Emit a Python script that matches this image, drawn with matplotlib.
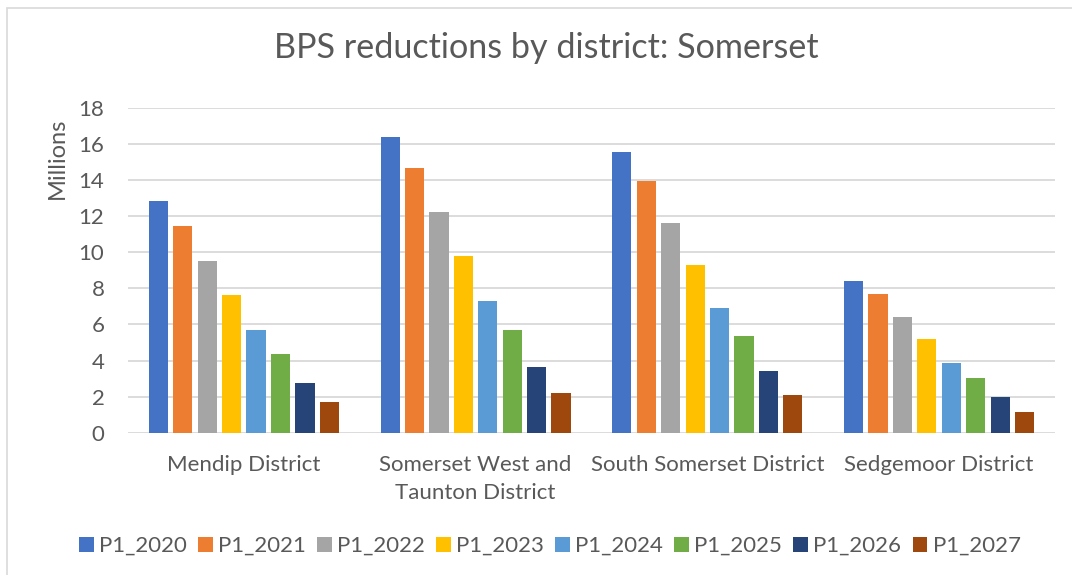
import matplotlib.pyplot as plt
import numpy as np
from matplotlib.patches import Rectangle

# values in millions
districts = ["Mendip District", "Somerset West and\nTaunton District",
             "South Somerset District", "Sedgemoor District"]
series = ["P1_2020", "P1_2021", "P1_2022", "P1_2023",
          "P1_2024", "P1_2025", "P1_2026", "P1_2027"]
p1_2020 = [12.83, 16.37, 15.56, 8.40]
p1_2021 = [11.45, 14.68, 13.94, 7.70]
p1_2022 = [9.51, 12.20, 11.59, 6.42]
p1_2023 = [7.61, 9.77, 9.27, 5.17]
p1_2024 = [5.67, 7.31, 6.92, 3.88]
p1_2025 = [4.38, 5.67, 5.37, 3.06]
p1_2026 = [2.79, 3.64, 3.45, 1.98]
p1_2027 = [1.72, 2.22, 2.09, 1.18]
values = [p1_2020, p1_2021, p1_2022, p1_2023, p1_2024, p1_2025, p1_2026, p1_2027]
colors = ["#4472C4", "#ED7D31", "#A5A5A5", "#FFC000",
          "#5B9BD5", "#70AD47", "#264478", "#9E480E"]

TXT = "#595959"
GRID = "#D9D9D9"
plt.rcParams["font.family"] = ["Lato", "DejaVu Sans"]

fig = plt.figure(figsize=(10.72, 5.75), dpi=100)
ax = fig.add_axes([0.1194, 0.2470, 0.8647, 0.5660])

x = np.arange(len(districts))
slot = 0.1054
width = 0.083
for i, (name, vals) in enumerate(zip(series, values)):
    offs = (i - (len(series) - 1) / 2) * slot
    ax.bar(x + offs, vals, width, color=colors[i], label=name, zorder=3)

ax.set_xlim(-0.5, len(districts) - 0.5)
ax.set_ylim(0, 18)
ax.set_yticks(range(0, 19, 2))
ax.yaxis.grid(True, color=GRID, linewidth=1.3, zorder=0)
for s in ax.spines.values():
    s.set_visible(False)
ax.set_xticks(x)
ax.set_xticklabels(districts)
ax.tick_params(axis="both", length=0, labelsize=16, labelcolor=TXT)
ax.tick_params(axis="y", pad=17)
ax.tick_params(axis="x", pad=15.5)
for lbl in ax.get_xticklabels():
    lbl.set_linespacing(1.55)

fig.text(57 / 1072, 1 - 158 / 575, "Millions", rotation=90, ha="center",
         va="center", fontsize=17, color=TXT)
fig.text(546 / 1072, 1 - 58 / 575, "BPS reductions by district: Somerset",
         ha="center", va="baseline", fontsize=24.6, color=TXT)

leg = ax.legend(loc="center", bbox_to_anchor=(550 / 1072, 1 - 546 / 575),
                bbox_transform=fig.transFigure, ncol=8, frameon=False,
                fontsize=16, handlelength=0.65, handleheight=0.65,
                handletextpad=0.25, columnspacing=0.5, borderaxespad=0)
for t in leg.get_texts():
    t.set_color(TXT)

# chart area border
fig.patches.append(Rectangle((7 / 1072, -0.1), 1.2, 1.1 - 8 / 575,
                             transform=fig.transFigure, fill=False,
                             edgecolor=GRID, linewidth=1.2))

fig.savefig("out.png", dpi=100)
